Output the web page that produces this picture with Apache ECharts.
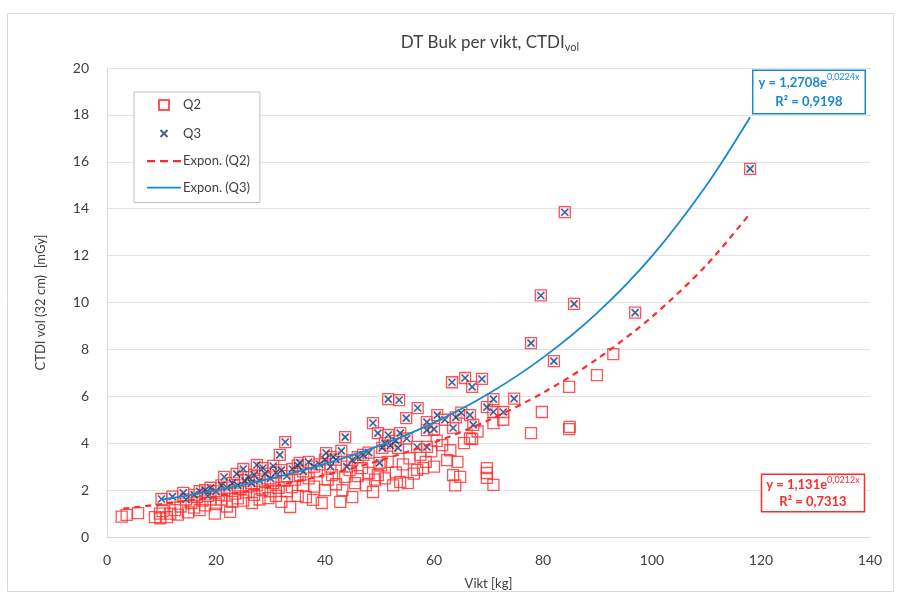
<!DOCTYPE html>
<html>
<head>
<meta charset="utf-8">
<script src="https://cdn.jsdelivr.net/npm/echarts@6/dist/echarts.min.js"></script>
<style>html,body{margin:0;padding:0;background:#fff}#c{width:904px;height:598px}</style>
</head>
<body>
<div id="c"></div>
<script>
// ---- data ----
var xTicks = [0, 20, 40, 60, 80, 100, 120, 140];
var yTicks = [0, 2, 4, 6, 8, 10, 12, 14, 16, 18, 20];

// Q2 points (red squares only)
var q2Points = [
[2.7,0.87],[3.6,0.94],[5.7,1.02],[8.8,0.85],[9.7,1.0],[9.8,0.8],[10.2,1.1],[11,0.85],[11.6,1.0],[12.5,1.15],[13,0.95],[13.5,1.3],[14.9,1.05],[15.5,1.45],[16,1.25],[16.5,1.7],[17,1.15],[17.5,1.55],[18,1.35],[18.5,1.9],[19,1.6],[19.8,1.0],[20,1.4],[20.5,1.8],[21,1.6],[21.5,2.0],[22,1.3],[22.6,1.07],[23,1.5],[23.5,1.85],[24,1.65],[24.5,2.05],[25,1.55],[25.5,1.9],[26,2.15],[26.6,1.45],[27,1.8],[27.5,2.2],[28,1.6],[28.5,2.0],[29,2.35],[29.6,1.66],[30,1.95],[30.5,2.3],[31,1.75],[31.5,2.1],[32,1.5],[32.5,2.4],[33,1.95],[33.6,1.28],[33.9,2.13],[34.5,2.45],[35,1.75],[35.4,2.64],[36,2.2],[36.5,1.7],[37,2.5],[37.8,1.58],[38,2.15],[38.5,2.8],[39.4,1.45],[40,2.0],[40.5,2.45],[41.3,2.64],[42,2.25],[42.8,1.5],[43.2,2.0],[43.7,2.56],[44.5,2.85],[45,1.7],[45.5,2.3],[46,2.6],[46.8,2.94],[47.5,2.2],[48,2.73],[48.8,1.92],[49.2,2.45],[49.7,2.64],[50.3,3.05],[51,2.5],[51.5,3.2],[52.5,2.2],[53,2.75],[53.8,2.35],[54.3,3.1],[55.2,2.3],[55.5,3.35],[56.3,2.7],[56.9,2.86],[57.5,3.5],[58,2.94],[58.5,3.2],[59.5,3.65],[60,3.0],[60.5,4.1],[61.5,3.92],[62.4,3.28],[63,3.7],[63.5,2.64],[63.9,2.2],[64.3,3.2],[64.8,2.56],[65.5,4.0],[66.6,4.2],[67,4.18],[68,4.5],[69.7,2.94],[69.7,2.73],[69.7,2.52],[70.9,2.22],[70.9,4.86],[72.7,5.0],[77.8,4.43],[79.8,5.33],[84.8,4.6],[84.9,4.7],[84.8,6.4],[89.9,6.9],[92.9,7.8]
];

// Q3 points (navy crosses, drawn inside red squares)
var q3Points = [
[10,1.62],[12,1.72],[14,1.88],[14.5,1.6],[16,1.8],[17,1.95],[18,2.0],[18.5,1.75],[19,2.1],[20,1.95],[21,2.2],[21.5,2.56],[22,2.1],[23,2.3],[23.8,2.69],[24,2.2],[25,2.9],[25.3,2.4],[26,2.55],[26.5,2.3],[27,2.65],[27.5,3.07],[28,2.4],[28.6,2.94],[29,2.7],[30,2.5],[30.5,3.03],[31,2.75],[31.7,3.5],[32,2.85],[32.7,4.05],[33,2.6],[34,2.9],[35,3.05],[35.4,3.16],[36,2.8],[37,3.2],[38,3.0],[39,3.1],[40,3.3],[40.2,3.58],[41,3.0],[41.5,3.41],[42,3.3],[43,3.67],[43.7,4.26],[44,3.0],[45,3.28],[46,3.4],[47,3.5],[48,3.6],[48.8,4.86],[49.7,4.43],[50,3.16],[50.5,3.8],[51,4.0],[51.6,4.35],[51.6,5.88],[52,3.9],[53,4.1],[53.4,3.8],[53.6,5.84],[53.8,4.43],[54.9,5.07],[55,4.2],[56.9,3.84],[57,5.5],[58.7,3.84],[58.7,4.56],[58.7,4.9],[60,4.6],[60.6,5.2],[62,5.0],[63.3,6.6],[63.5,4.65],[64,5.1],[65,5.3],[65.7,6.78],[66.6,5.2],[67,6.4],[67.2,4.78],[68.8,6.74],[69.7,5.54],[70.9,5.33],[70.9,5.88],[72.7,5.33],[74.7,5.9],[77.8,8.27],[79.6,10.3],[82,7.5],[84,13.85],[85.7,9.94],[96.9,9.57],[118,15.7]
];

// Exponential trend lines
var trendQ2X = [3, 10, 20, 30, 40, 50, 60, 70, 80, 90, 100, 110, 118];
var trendQ2Y = [1.21, 1.40, 1.73, 2.14, 2.64, 3.26, 4.03, 4.98, 6.15, 7.60, 9.39, 11.6, 13.8];
var trendQ3X = [10, 20, 30, 40, 50, 60, 70, 80, 90, 100, 110, 118];
var trendQ3Y = [1.59, 1.99, 2.49, 3.12, 3.90, 4.88, 6.11, 7.65, 9.57, 11.98, 15.0, 17.9];

var titleMain = 'DT Buk per vikt, CTDI';
var titleSub = 'vol';
var xName = 'Vikt [kg]';
var yName = 'CTDI vol (32 cm)  [mGy]';
var eqQ3 = ['y = 1,2708e', '0,0224x', 'R² = 0,9198'];
var eqQ2 = ['y = 1,131e', '0,0212x', 'R² = 0,7313'];

function zip(xs, ys) { return xs.map(function (x, i) { return [x, ys[i]]; }); }

var FONT = 'Lato, "Open Sans", sans-serif';
var RED = '#ff2a2a';
var BLUE = '#1689d0';
var NAVY = '#1f3a6e';

var chart = echarts.init(document.getElementById('c'), null, { renderer: 'canvas' });
chart.setOption({
  animation: false,
  backgroundColor: '#fff',
  textStyle: { fontFamily: FONT },
  title: {
    text: '{m|' + titleMain + '}{s|' + titleSub + '}',
    left: 485, top: 28, textAlign: 'center',
    textStyle: {
      fontWeight: 'normal',
      rich: {
        m: { fontSize: 17, fontWeight: 'normal', color: '#404040', fontFamily: FONT, lineHeight: 20 },
        s: { fontSize: 11, fontWeight: 'normal', color: '#404040', fontFamily: FONT, lineHeight: 20, verticalAlign: 'bottom', padding: [8, 0, 0, 0] }
      }
    }
  },
  grid: { left: 107, right: 34, top: 68, bottom: 61 },
  legend: {
    left: 134, top: 92, orient: 'vertical',
    backgroundColor: '#fff', borderColor: '#bfbfbf', borderWidth: 1,
    padding: [5, 10, 8, 12], itemWidth: 34, itemHeight: 14, itemGap: 12.5,
    textStyle: { fontSize: 13, color: '#404040', fontFamily: FONT, padding: [0, 0, 0, -3] },
    data: [
      { name: 'Q2', icon: 'path://M0,0M34,14M12,2h10v10h-10z' },
      { name: 'Q3', icon: 'path://M0,0M34,14M13.5,3.5L20.5,10.5M20.5,3.5L13.5,10.5' },
      { name: 'Expon. (Q2)', icon: 'path://M0,0M34,14M0,6h8v2.2h-8zM13,6h8v2.2h-8zM26,6h8v2.2h-8z', itemStyle: { color: RED, borderWidth: 0 } },
      { name: 'Expon. (Q3)', icon: 'path://M0,0M34,14M0,6.2h34v1.8h-34z', itemStyle: { color: BLUE, borderWidth: 0 } }
    ]
  },
  xAxis: {
    type: 'value', min: 0, max: 140, interval: 20,
    name: xName, nameLocation: 'middle', nameGap: 40,
    nameTextStyle: { fontSize: 13, color: '#404040', fontFamily: FONT },
    axisLine: { show: true, lineStyle: { color: '#d9d9d9' } },
    axisTick: { show: false },
    splitLine: { show: false },
    axisLabel: { fontSize: 14, color: '#404040', margin: 16, fontFamily: FONT,
      formatter: function (v) { return xTicks.indexOf(v) >= 0 ? String(v) : ''; } }
  },
  yAxis: {
    type: 'value', min: 0, max: 20, interval: 2,
    name: yName, nameLocation: 'middle', nameGap: 60,
    nameTextStyle: { fontSize: 13, color: '#404040', fontFamily: FONT },
    axisLine: { show: true, lineStyle: { color: '#d9d9d9' } },
    axisTick: { show: false },
    splitLine: { show: true, lineStyle: { color: '#e3e3e3' } },
    axisLabel: { fontSize: 14, color: '#404040', margin: 18, fontFamily: FONT,
      formatter: function (v) { return yTicks.indexOf(v) >= 0 ? String(v) : ''; } }
  },
  series: [
    {
      name: 'Q2', type: 'scatter', data: q2Points, symbol: 'rect', symbolSize: 11, z: 2,
      itemStyle: { color: 'rgba(255,255,255,0)', borderColor: RED, borderWidth: 1.3 }
    },
    {
      name: 'Q3frame', type: 'scatter', data: q3Points, symbol: 'rect', symbolSize: 11, z: 3,
      itemStyle: { color: 'rgba(225,236,248,0.6)', borderColor: RED, borderWidth: 1.3 }
    },
    {
      name: 'Q3', type: 'scatter', data: q3Points, symbol: 'path://M0,0L10,10M10,0L0,10', symbolSize: 7, z: 4,
      itemStyle: { color: NAVY, borderColor: NAVY, borderWidth: 1.6 }
    },
    {
      name: 'Expon. (Q2)', type: 'line', data: zip(trendQ2X, trendQ2Y), smooth: 0.3, showSymbol: false, symbol: 'none', z: 5,
      lineStyle: { color: RED, width: 2.2, type: [6, 5] }, itemStyle: { color: RED }
    },
    {
      name: 'Expon. (Q3)', type: 'line', data: zip(trendQ3X, trendQ3Y), smooth: 0.3, showSymbol: false, symbol: 'none', z: 6,
      lineStyle: { color: BLUE, width: 1.8 }, itemStyle: { color: BLUE }
    }
  ],
  graphic: [
    { type: 'rect', z: -10, silent: true, shape: { x: 7.5, y: 13.5, width: 886, height: 578 },
      style: { fill: 'none', stroke: '#d9d9d9', lineWidth: 1 } },
    { type: 'text', x: 809, y: 71, z: 20,
      style: {
        text: '{a|' + eqQ3[0] + '}{s|' + eqQ3[1] + '}\n{a|' + eqQ3[2] + '}',
        align: 'center', verticalAlign: 'top',
        backgroundColor: '#fff', borderColor: BLUE, borderWidth: 1.5, padding: [2, 5, 2, 5],
        rich: {
          a: { fontSize: 13, fontWeight: 'bold', fill: BLUE, color: BLUE, fontFamily: FONT, lineHeight: 19, align: 'center' },
          s: { fontSize: 9, fill: BLUE, color: BLUE, fontFamily: FONT, lineHeight: 19, verticalAlign: 'top', padding: [0, 0, 6, 0] }
        }
      }
    },
    { type: 'text', x: 813, y: 475, z: 20,
      style: {
        text: '{a|' + eqQ2[0] + '}{s|' + eqQ2[1] + '}\n{a|' + eqQ2[2] + '}',
        align: 'center', verticalAlign: 'top',
        backgroundColor: '#fff', borderColor: RED, borderWidth: 1.5, padding: [1, 4, 1, 4],
        rich: {
          a: { fontSize: 13, fontWeight: 'bold', fill: RED, color: RED, fontFamily: FONT, lineHeight: 17, align: 'center' },
          s: { fontSize: 9, fill: RED, color: RED, fontFamily: FONT, lineHeight: 17, verticalAlign: 'top', padding: [0, 0, 6, 0] }
        }
      }
    }
  ]
});
</script>
</body>
</html>
